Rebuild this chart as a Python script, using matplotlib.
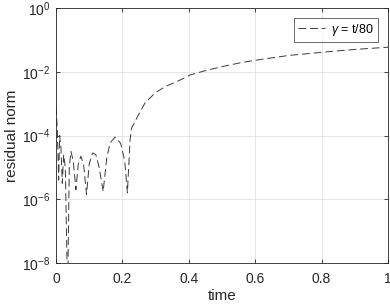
import matplotlib
matplotlib.use("Agg")
import matplotlib.pyplot as plt
import numpy as np

plt.rcParams['font.family'] = ['Liberation Sans', 'DejaVu Sans']
plt.rcParams['mathtext.fontset'] = 'custom'
plt.rcParams['mathtext.rm'] = 'Liberation Sans'
plt.rcParams['mathtext.it'] = 'Liberation Sans:italic'

# data: time and log10(residual norm)
time = [0.000, 0.004, 0.008, 0.011, 0.015, 0.019, 0.023, 0.028, 0.035,
        0.040, 0.045, 0.052, 0.060, 0.067, 0.075, 0.083, 0.092, 0.100,
        0.110, 0.120, 0.130, 0.142, 0.153, 0.163, 0.178, 0.195, 0.207,
        0.215, 0.223, 0.228, 0.248, 0.268, 0.298, 0.328, 0.364, 0.404,
        0.459, 0.509, 0.559, 0.620, 0.700, 0.800, 0.900, 1.000]
log_res = [-3.1, -3.8, -5.4, -4.0, -4.4, -5.5, -4.6, -5.0, -9.0,
           -5.0, -4.5, -4.8, -5.7, -4.9, -4.65, -4.9, -5.85, -4.9,
           -4.55, -4.6, -5.0, -5.76, -4.7, -4.23, -4.05, -4.25, -4.8,
           -5.8, -4.14, -3.76, -3.36, -2.98, -2.67, -2.47, -2.31, -2.10,
           -1.94, -1.82, -1.71, -1.61, -1.49, -1.39, -1.30, -1.23]
residual = [10.0 ** v for v in log_res]
legend_label = r'$\gamma$ = t/80'

xticks = [0, 0.2, 0.4, 0.6, 0.8, 1]
xticklabels = ['0', '0.2', '0.4', '0.6', '0.8', '1']
yticks = [1e-8, 1e-6, 1e-4, 1e-2, 1e0]
yticklabels = [r'$10^{-8}$', r'$10^{-6}$', r'$10^{-4}$', r'$10^{-2}$', r'$10^{0}$']

fig = plt.figure(figsize=(3.9, 3.05), dpi=100)
ax = fig.add_axes([56/390, 1-263/305, 332/390, 255/305])

dark = '#262626'
ax.plot(time, residual, linestyle=(0, (8, 4)), color='#3a3a3a', lw=0.7,
        label=legend_label)

ax.set_yscale('log')
ax.set_xlim(0, 1)
ax.set_ylim(1e-8, 1e0)
ax.set_xticks(xticks)
ax.set_xticklabels(xticklabels)
ax.set_yticks(yticks)
ax.set_yticklabels(yticklabels)
ax.minorticks_off()
ax.yaxis.set_minor_locator(matplotlib.ticker.NullLocator())

ax.grid(True, color='#e3e3e3', lw=0.6)
ax.set_axisbelow(True)
for s in ax.spines.values():
    s.set_color(dark)
    s.set_linewidth(0.6)
ax.tick_params(direction='in', length=3, width=0.6, colors=dark,
               labelsize=10, top=True, right=True, pad=4)
ax.tick_params(axis='x', pad=6.5)

ax.set_xlabel('time', fontsize=11, color=dark, labelpad=2.5)
ax.set_ylabel('residual norm', fontsize=11, color=dark, labelpad=2)

leg = ax.legend(loc='upper right', fontsize=9, frameon=True, fancybox=False,
                handlelength=2.2, borderpad=0.3, borderaxespad=0.8,
                handletextpad=0.5)
leg.get_frame().set_edgecolor(dark)
leg.get_frame().set_linewidth(0.6)

fig.savefig('out.png', dpi=100)
